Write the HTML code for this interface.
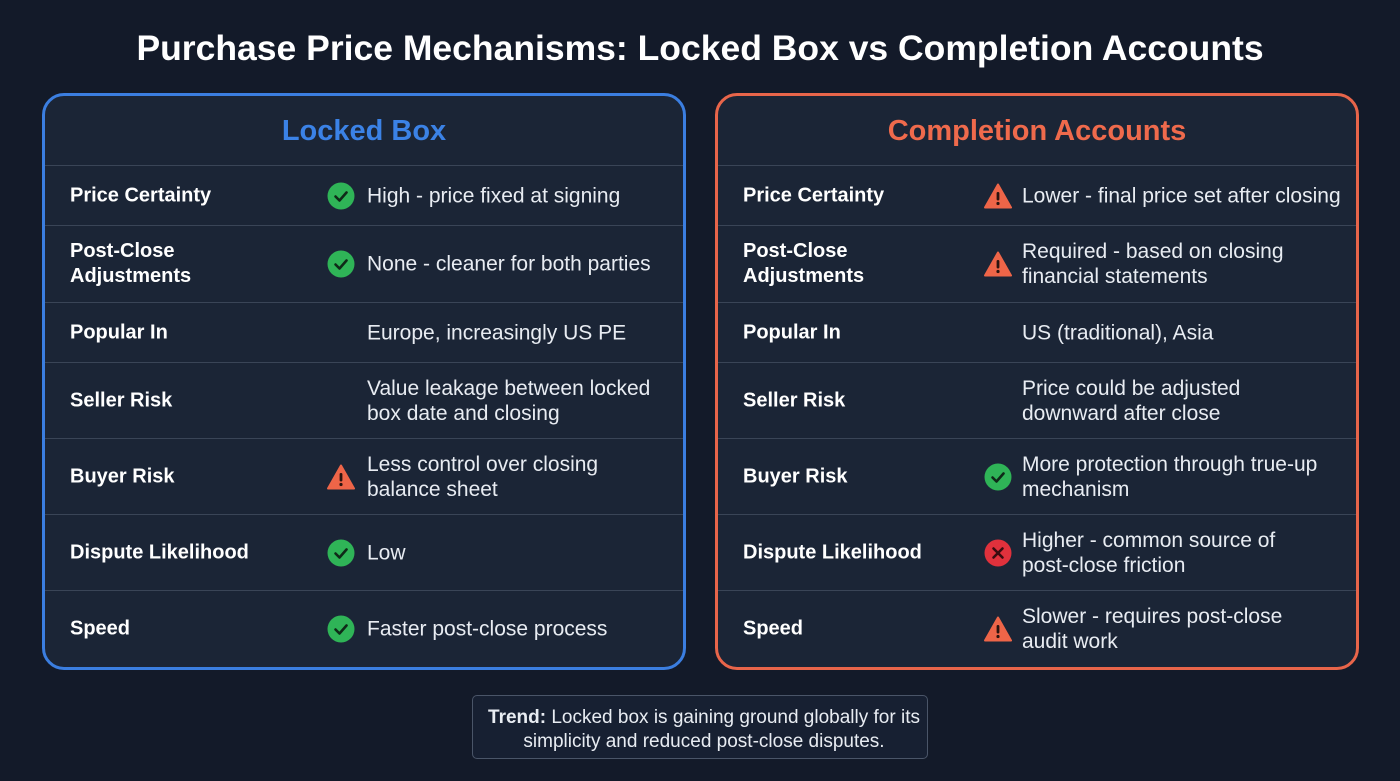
<!DOCTYPE html>
<html><head><meta charset="utf-8"><style>
*{margin:0;padding:0;box-sizing:border-box}
body{width:1400px;height:781px;background:#131a29;font-family:"Liberation Sans",sans-serif;color:#fff;position:relative;overflow:hidden}
h1{position:absolute;top:28px;left:0;width:1400px;text-align:center;font-size:35.5px;font-weight:bold;color:#fff}
.panel{position:absolute;top:93px;width:644px;height:577px;border:3px solid;border-radius:22px;background:#1b2536}
.panel h2{position:absolute;top:0;left:0;width:100%;height:69px;line-height:70px;text-align:center;font-size:29px;font-weight:bold}
.row{position:absolute;left:0;width:100%;border-top:1.5px solid #3a4557}
.lab{position:absolute;left:25px;top:50%;transform:translateY(-50%);font-size:20px;font-weight:bold;line-height:25px}
.ic{position:absolute;top:50%;transform:translateY(-50%);width:28px;height:28px}
.val{position:absolute;top:50%;transform:translateY(-50%);font-size:21px;line-height:25px;color:#e8ecf2;white-space:nowrap}
.note{position:absolute;left:472px;top:695px;width:456px;height:64px;border:1.5px solid #4a5568;border-radius:5px;background:#172032;text-align:center;font-size:19px;line-height:24px;padding-top:10px;padding-left:8px;color:#e8ecf2;white-space:nowrap}
</style></head><body>
<h1>Purchase Price Mechanisms: Locked Box vs Completion Accounts</h1>
<div class="panel" id="p1" style="left:42px;border-color:#3b7ee0"><h2 style="color:#3b82e6">Locked Box</h2></div>
<div class="panel" id="p2" style="left:715px;border-color:#e8654a"><h2 style="color:#ef6a4c">Completion Accounts</h2></div>
<div class="note"><b>Trend:</b> Locked box is gaining ground globally for its<br>simplicity and reduced post-close disputes.</div>
<script>
const rowTops=[69,129,206,266,342,418,494];
const rowBottoms=[129,206,266,342,418,494,571];
const labels=["Price Certainty","Post-Close<br>Adjustments","Popular In","Seller Risk","Buyer Risk","Dispute Likelihood","Speed"];
const lockedIcons=["ok","ok","","","warn","ok","ok"];
const lockedVals=["High - price fixed at signing","None - cleaner for both parties","Europe, increasingly US PE","Value leakage between locked<br>box date and closing","Less control over closing<br>balance sheet","Low","Faster post-close process"];
const compIcons=["warn","warn","","","ok","bad","warn"];
const compVals=["Lower - final price set after closing","Required - based on closing<br>financial statements","US (traditional), Asia","Price could be adjusted<br>downward after close","More protection through true-up<br>mechanism","Higher - common source of<br>post-close friction","Slower - requires post-close<br>audit work"];
function icon(t){
 if(t==="ok")return '<svg viewBox="0 0 28 28" width="28" height="28"><circle cx="14" cy="14" r="13.5" fill="#2fb457"/><path d="M8.5 14.5l4 4 7-8" fill="none" stroke="#0f2a18" stroke-width="2.6" stroke-linecap="round" stroke-linejoin="round"/></svg>';
 if(t==="warn")return '<svg viewBox="0 0 28 28" width="28" height="28"><path d="M14 2.5L27 25.5H1Z" fill="#ee6548" stroke="#ee6548" stroke-width="2" stroke-linejoin="round"/><rect x="12.6" y="10" width="2.8" height="8.5" rx="1.2" fill="#2a1410"/><circle cx="14" cy="21.5" r="1.6" fill="#2a1410"/></svg>';
 if(t==="bad")return '<svg viewBox="0 0 28 28" width="28" height="28"><circle cx="14" cy="14" r="13.5" fill="#e0313c"/><path d="M9.5 9.5l9 9M18.5 9.5l-9 9" stroke="#3a0c10" stroke-width="2.6" stroke-linecap="round"/></svg>';
 return '';
}
function build(pid,icons,vals,iconX,valX,prefix){
 const p=document.getElementById(pid);
 for(let i=0;i<labels.length;i++){
  const r=document.createElement('div');r.className='row';
  
  
  r.style.top=rowTops[i]+'px';r.style.height=(rowBottoms[i]-rowTops[i])+'px';
  const l=document.createElement('div');l.className='lab';l.innerHTML=labels[i];
  
  
  r.appendChild(l);
  if(icons[i]){const c=document.createElement('div');c.className='ic';c.style.left=iconX+'px';c.innerHTML=icon(icons[i]);
   
   
   r.appendChild(c);}
  const v=document.createElement('div');v.className='val';v.style.left=valX+'px';v.innerHTML=vals[i];
  
  
  r.appendChild(v);
  p.appendChild(r);
 }
}
build('p1',lockedIcons,lockedVals,282,322,'locked-box');
build('p2',compIcons,compVals,266,304,'completion');
</script>
</body></html>
